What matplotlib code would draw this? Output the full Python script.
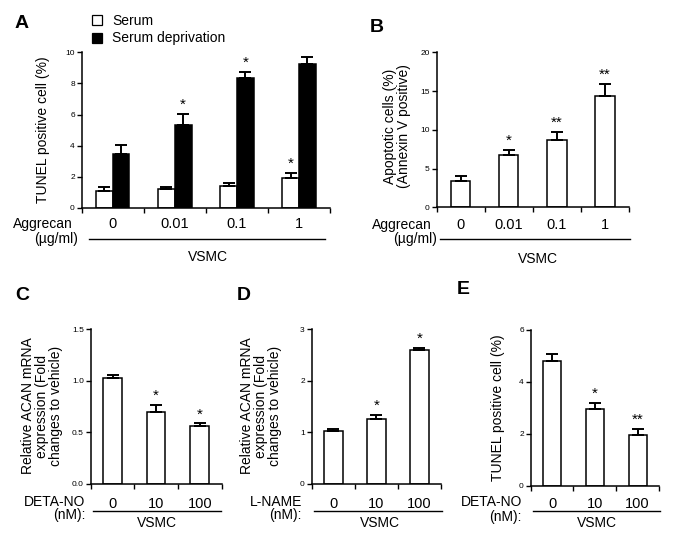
"""Apoptosis / ACAN expression bar panels (A-E) for VSMC."""

import matplotlib

matplotlib.use("Agg")
import matplotlib.pyplot as plt
import numpy as np
from matplotlib.lines import Line2D
from matplotlib.patches import Patch

W, H = 676, 543
DPI = 100

plt.rcParams["font.family"] = ["Liberation Sans", "DejaVu Sans"]

LABEL_SIZE = 10
TICK_SIZE = 6
STAR_SIZE = 11
BAR_LW = 1.1
ERR_LW = 1.4

# panel A: TUNEL, serum vs serum deprivation
A_DOSES = ["0", "0.01", "0.1", "1"]
A_SERUM = [1.1, 1.24, 1.41, 1.95]
A_SERUM_ERR = [0.22, 0.13, 0.2, 0.3]
A_SERUM_STARS = ["", "", "", "*"]
A_DEPRIV = [3.5, 5.33, 8.33, 9.22]
A_DEPRIV_ERR = [0.52, 0.72, 0.43, 0.5]
A_DEPRIV_STARS = ["", "*", "*", ""]

# panel B: annexin V
B_DOSES = ["0", "0.01", "0.1", "1"]
B_VALUES = [3.45, 6.7, 8.7, 14.4]
B_ERR = [0.6, 0.7, 1.0, 1.5]
B_STARS = ["", "*", "**", "**"]

# panel C: ACAN mRNA with DETA-NO
C_DOSES = ["0", "10", "100"]
C_VALUES = [1.03, 0.70, 0.56]
C_ERR = [0.03, 0.07, 0.03]
C_STARS = ["", "*", "*"]

# panel D: ACAN mRNA with L-NAME
D_DOSES = ["0", "10", "100"]
D_VALUES = [1.02, 1.27, 2.6]
D_ERR = [0.04, 0.07, 0.04]
D_STARS = ["", "*", "*"]

# panel E: TUNEL with DETA-NO
E_DOSES = ["0", "10", "100"]
E_VALUES = [4.8, 2.95, 1.97]
E_ERR = [0.27, 0.24, 0.22]
E_STARS = ["", "*", "**"]


def fx(x):
    return x / W


def fy(y):
    return 1 - y / H


def add_axes_px(fig, left, top, right, bottom):
    return fig.add_axes([fx(left), fy(bottom), (right - left) / W, (bottom - top) / H])


def style_axes(ax, n_groups, labels, ylim, yticks, ytick_fmt, pad):
    ax.set_xlim(-0.5, n_groups - 0.5)
    ax.set_ylim(*ylim)
    for side in ("top", "right"):
        ax.spines[side].set_visible(False)
    for side in ("left", "bottom"):
        ax.spines[side].set_linewidth(1.1)
    ax.set_yticks(yticks)
    ax.set_yticklabels([ytick_fmt.format(t) for t in yticks], fontsize=TICK_SIZE)
    ax.tick_params(axis="y", length=3.5, width=1.0, pad=1.5)
    ax.set_xticks(np.arange(n_groups))
    ax.set_xticklabels(labels, fontsize=LABEL_SIZE + 0.5)
    ax.tick_params(axis="x", which="major", length=0, pad=pad)
    ax.set_xticks(np.arange(n_groups + 1) - 0.5, minor=True)
    ax.tick_params(axis="x", which="minor", length=3.5, width=1.0)


def draw_bars(ax, x, values, errs, stars, width, color):
    ax.bar(x, values, width=width, color=color, edgecolor="black",
           linewidth=BAR_LW, zorder=2)
    lower = np.zeros(len(values))
    ax.errorbar(x, values, yerr=[lower, errs], fmt="none", ecolor="black",
                elinewidth=ERR_LW, capsize=4, capthick=ERR_LW, zorder=3)
    for xi, v, e, s in zip(x, values, errs, stars):
        if s:
            ax.annotate(s, xy=(xi, v + e), xytext=(0, 3.5), textcoords="offset points",
                        ha="center", va="baseline", fontsize=STAR_SIZE)


def under_axis(fig, row1, row2, y1, y2, text_right, line_x, line_y, vsmc_xy):
    fig.text(fx(text_right[0]), fy(y1), row1, ha="right", va="center_baseline",
             fontsize=LABEL_SIZE)
    fig.text(fx(text_right[1]), fy(y2), row2, ha="right", va="center_baseline",
             fontsize=LABEL_SIZE)
    fig.add_artist(Line2D([fx(line_x[0]), fx(line_x[1])], [fy(line_y), fy(line_y)],
                          color="black", linewidth=1.0, transform=fig.transFigure))
    fig.text(fx(vsmc_xy[0]), fy(vsmc_xy[1]), "VSMC", ha="center", va="center",
             fontsize=LABEL_SIZE)


def panel_letter(fig, letter, x, y):
    fig.text(fx(x), fy(y), letter, ha="center", va="center", fontsize=14,
             fontweight="bold")


def main():
    fig = plt.figure(figsize=(W / DPI, H / DPI), dpi=DPI)

    # A
    ax = add_axes_px(fig, 81.7, 52.3, 330, 208)
    x = np.arange(len(A_DOSES))
    draw_bars(ax, x - 0.135, A_SERUM, A_SERUM_ERR, A_SERUM_STARS, 0.27, "white")
    draw_bars(ax, x + 0.135, A_DEPRIV, A_DEPRIV_ERR, A_DEPRIV_STARS, 0.27, "black")
    style_axes(ax, len(A_DOSES), A_DOSES, (0, 10), [0, 2, 4, 6, 8, 10], "{:g}", 6.5)
    fig.text(fx(43), fy(130), "TUNEL positive cell (%)", rotation=90, ha="center",
             va="center", fontsize=LABEL_SIZE)
    handles = [Patch(facecolor="white", edgecolor="black", linewidth=0.9),
               Patch(facecolor="black", edgecolor="black", linewidth=0.9)]
    fig.legend(handles, ["Serum", "Serum deprivation"], loc="upper left",
               bbox_to_anchor=(fx(92), fy(14)), frameon=False, fontsize=LABEL_SIZE,
               handlelength=0.75, handleheight=0.75, handletextpad=0.7,
               labelspacing=0.25, borderpad=0, borderaxespad=0)
    under_axis(fig, "Aggrecan", "(\u00b5g/ml)", 222, 237, (73, 78), (89, 325), 239,
               (208, 257))
    panel_letter(fig, "A", 22, 23)

    # B
    ax = add_axes_px(fig, 436.7, 52.3, 629, 207.3)
    draw_bars(ax, np.arange(len(B_DOSES)), B_VALUES, B_ERR, B_STARS, 0.4, "white")
    style_axes(ax, len(B_DOSES), B_DOSES, (0, 20), [0, 5, 10, 15, 20], "{:g}", 8)
    fig.text(fx(397), fy(126), "Apoptotic cells (%)\n(Annexin V positive)", rotation=90,
             ha="center", va="center", fontsize=LABEL_SIZE, linespacing=0.95)
    under_axis(fig, "Aggrecan", "(\u00b5g/ml)", 223, 237, (432, 437), (440, 630), 239,
               (538, 259))
    panel_letter(fig, "B", 377, 27)

    # C
    ax = add_axes_px(fig, 90.7, 329.3, 221.5, 484)
    draw_bars(ax, np.arange(len(C_DOSES)), C_VALUES, C_ERR, C_STARS, 0.43, "white")
    style_axes(ax, len(C_DOSES), C_DOSES, (0, 1.5), [0, 0.5, 1.0, 1.5], "{:.1f}", 9)
    fig.text(fx(42), fy(406), "Relative ACAN mRNA\nexpression (Fold\nchanges to vehicle)",
             rotation=90, ha="center", va="center", fontsize=LABEL_SIZE, linespacing=1.0)
    under_axis(fig, "DETA-NO", "(nM):", 501, 514, (85, 85), (92.7, 221), 510.7,
               (157, 523))
    panel_letter(fig, "C", 22, 295)

    # D
    ax = add_axes_px(fig, 311.7, 329.3, 441, 484)
    draw_bars(ax, np.arange(len(D_DOSES)), D_VALUES, D_ERR, D_STARS, 0.43, "white")
    style_axes(ax, len(D_DOSES), D_DOSES, (0, 3), [0, 1, 2, 3], "{:g}", 9)
    fig.text(fx(261), fy(406), "Relative ACAN mRNA\nexpression (Fold\nchanges to vehicle)",
             rotation=90, ha="center", va="center", fontsize=LABEL_SIZE, linespacing=1.0)
    under_axis(fig, "L-NAME", "(nM):", 501, 514, (302, 302), (314, 441.7), 510.7,
               (380, 523))
    panel_letter(fig, "D", 244, 295)

    # E
    ax = add_axes_px(fig, 530.7, 330, 659, 486)
    draw_bars(ax, np.arange(len(E_DOSES)), E_VALUES, E_ERR, E_STARS, 0.42, "white")
    style_axes(ax, len(E_DOSES), E_DOSES, (0, 6), [0, 2, 4, 6], "{:g}", 8)
    fig.text(fx(498), fy(408), "TUNEL positive cell (%)", rotation=90, ha="center",
             va="center", fontsize=LABEL_SIZE)
    under_axis(fig, "DETA-NO", "(nM):", 501, 515, (522, 522), (532.7, 660), 511,
               (597, 523))
    panel_letter(fig, "E", 463, 290)

    fig.savefig("out.png", dpi=DPI)
    plt.close(fig)


if __name__ == "__main__":
    main()
